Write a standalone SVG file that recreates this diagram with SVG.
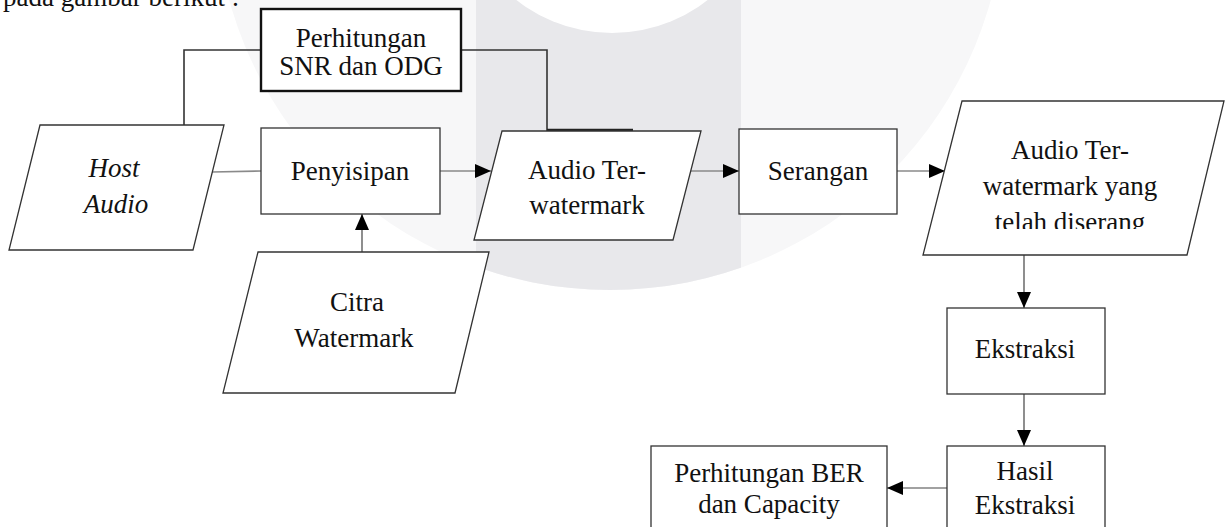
<svg xmlns="http://www.w3.org/2000/svg" width="1225" height="527" viewBox="0 0 1225 527">
<defs>
<style>
.box{fill:#fff;stroke:#333;stroke-width:1.3}
.thick{fill:#fff;stroke:#111;stroke-width:2.4}
.t{font-family:"Liberation Serif","Times New Roman",serif;font-size:27px;fill:#111;text-anchor:middle}
.it{font-style:italic}
.cg{fill:none;stroke:#8a8a8a;stroke-width:1.6}
.cd{fill:none;stroke:#444;stroke-width:1.2}
.cs{fill:none;stroke:#333;stroke-width:1.6}
</style>
<marker id="ah" markerUnits="userSpaceOnUse" markerWidth="16" markerHeight="14" refX="16" refY="7" orient="auto">
<path d="M0,0 L16,7 L0,14 Z" fill="#000"/>
</marker>
<clipPath id="bigc"><circle cx="610" cy="-105" r="395"/></clipPath>
<clipPath id="dclip"><rect x="900" y="100" width="325" height="129"/></clipPath>
</defs>
<rect width="1225" height="527" fill="#fff"/>
<g id="background">
<circle cx="610" cy="-105" r="395" fill="#f7f7f8"/>
<rect x="476" y="0" width="265" height="300" fill="#e8e8eb" clip-path="url(#bigc)"/>
<circle cx="612" cy="-122" r="155" fill="#fff"/>
</g>
<text class="t" x="3" y="6" style="text-anchor:start">pada gambar berikut :</text>
<g id="connectors">
<polyline class="cs" points="184,125 184,50 261,50"/>
<polyline class="cs" points="461,50 547,50 547,131"/>
<line x1="547" y1="130" x2="633" y2="130" stroke="#222" stroke-width="2.4"/>
<line class="cg" x1="212" y1="172" x2="261" y2="171"/>
<line class="cg" x1="440" y1="171" x2="491" y2="171" marker-end="url(#ah)"/>
<line class="cg" x1="691" y1="171" x2="739" y2="171" marker-end="url(#ah)"/>
<line class="cg" x1="897" y1="171" x2="945" y2="171" marker-end="url(#ah)"/>
<line class="cd" x1="362" y1="252" x2="362" y2="214" marker-end="url(#ah)"/>
<line class="cd" x1="1024" y1="255" x2="1024" y2="308" marker-end="url(#ah)"/>
<line class="cd" x1="1024" y1="394" x2="1024" y2="446" marker-end="url(#ah)"/>
<line class="cd" x1="947" y1="488" x2="887" y2="488" marker-end="url(#ah)"/>
</g>
<g id="snr">
<rect class="thick" x="261" y="9" width="200" height="82"/>
<text class="t" x="361" y="47">Perhitungan</text>
<text class="t" x="361" y="75">SNR dan ODG</text>
</g>
<g id="host-audio">
<polygon class="box" points="40,125 224,125 193,250 9,250"/>
<text class="t it" x="114" y="177">Host</text>
<text class="t it" x="116" y="213">Audio</text>
</g>
<g id="penyisipan">
<rect class="box" x="261" y="128" width="179" height="86"/>
<text class="t" x="350" y="180">Penyisipan</text>
</g>
<g id="audio-terwatermark">
<polygon class="box" points="502,131 701,131 673,240 474,240"/>
<text class="t" x="587" y="179">Audio Ter-</text>
<text class="t" x="587" y="214">watermark</text>
</g>
<g id="serangan">
<rect class="box" x="739" y="129" width="158" height="85"/>
<text class="t" x="818" y="180">Serangan</text>
</g>
<g id="audio-diserang">
<polygon class="box" points="962,101 1224,101 1187,255 923,255"/>
<text class="t" x="1070" y="159">Audio Ter-</text>
<text class="t" x="1070" y="195">watermark yang</text>
<text class="t" x="1070" y="231" clip-path="url(#dclip)">telah diserang</text>
</g>
<g id="citra">
<polygon class="box" points="258,252 489,252 455,393 223,393"/>
<text class="t" x="357" y="311">Citra</text>
<text class="t" x="354" y="347">Watermark</text>
</g>
<g id="ekstraksi">
<rect class="box" x="947" y="308" width="158" height="86"/>
<text class="t" x="1025" y="358">Ekstraksi</text>
</g>
<g id="hasil">
<rect class="box" x="947" y="446" width="158" height="90"/>
<text class="t" x="1025" y="480">Hasil</text>
<text class="t" x="1025" y="514">Ekstraksi</text>
</g>
<g id="ber">
<rect class="box" x="651" y="446" width="236" height="90"/>
<text class="t" x="769" y="482">Perhitungan BER</text>
<text class="t" x="769" y="513">dan Capacity</text>
</g>
</svg>
